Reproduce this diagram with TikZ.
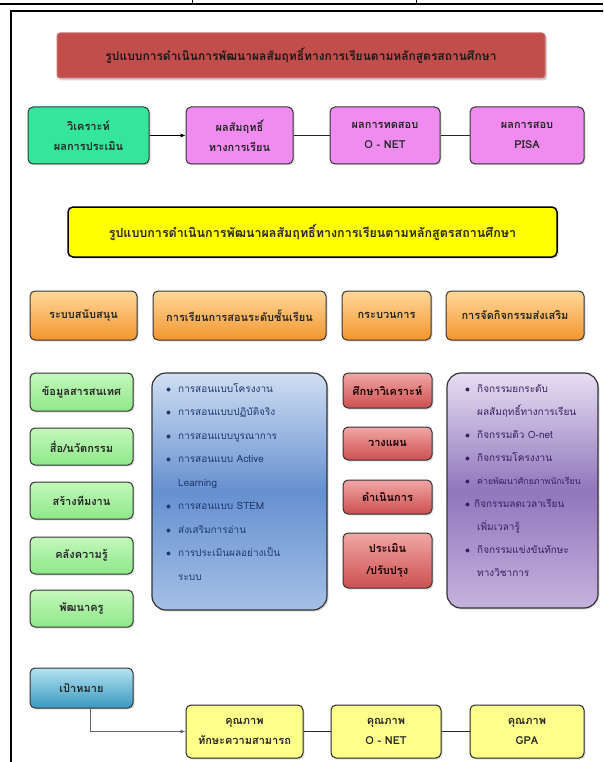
\documentclass[tikz,border=0pt]{standalone}
\usepackage{fontspec}
\newfontfamily\thai[Script=Thai]{Loma}
\usetikzlibrary{shadows,arrows.meta}
\pgfdeclarelayer{bg}
\pgfsetlayers{bg,main}
\definecolor{titlered}{HTML}{C24E4C}
\definecolor{mint}{HTML}{33E69C}
\definecolor{pinkbox}{HTML}{F08CF0}
\definecolor{yel}{HTML}{FFFF00}
\definecolor{lyel}{HTML}{FFFF8C}
\definecolor{orT}{HTML}{FFD89A}
\definecolor{orB}{HTML}{F3962E}
\definecolor{grT}{HTML}{C4F8BC}
\definecolor{grB}{HTML}{8EE888}
\definecolor{blT}{HTML}{D0DEF2}
\definecolor{blM}{HTML}{6690D0}
\definecolor{blB}{HTML}{A4C0E6}
\definecolor{rdT}{HTML}{F2A6A6}
\definecolor{rdB}{HTML}{CC5050}
\definecolor{puT}{HTML}{E6DEF2}
\definecolor{puM}{HTML}{9076BC}
\definecolor{puB}{HTML}{C6B2DE}
\definecolor{tlT}{HTML}{B4E2F2}
\definecolor{tlB}{HTML}{3A98C0}
\definecolor{bltext}{HTML}{1F3A70}
\definecolor{putext}{HTML}{3A1F60}
\begin{document}
\begin{tikzpicture}[x=1pt,y=-1pt,
  every node/.style={inner sep=0pt},
  lbl/.style={font=\thai\bfseries\fontsize{11}{20}\selectfont, text=black!85, align=center},
  bx/.style={rounded corners=5pt, draw=black!80, line width=1pt, lbl,
     drop shadow={shadow xshift=1.5pt, shadow yshift=-1.5pt, opacity=0.25}},
  conn/.style={draw=black!60, line width=0.8pt},
  link/.style={draw=black!85, line width=1.5pt},
  listtxt/.style={font=\thai\fontsize{10}{23.5}\selectfont, align=left, anchor=north west}]
\useasboundingbox (0,0) rectangle (603,762);
\clip (0,0) rectangle (603,762);
\fill[white] (0,0) rectangle (603,762);
% table fragment and frame
\draw[line width=1.5pt] (0,4) -- (603,4);
\draw[line width=1pt] (192,0) -- (192,4);
\draw[line width=1pt] (416,0) -- (416,4);
\draw[line width=2.5pt] (11,780) -- (11,11) -- (620,11);
% column guides
\coordinate (L1) at (90,0);
\coordinate (L2) at (243,0);
\coordinate (L3) at (385,0);
\coordinate (L4) at (521,0);
% title
\node[rounded corners=3pt, fill=titlered, draw=titlered!80!white, line width=1pt,
  minimum width=488pt, minimum height=45pt,
  drop shadow={shadow xshift=2pt, shadow yshift=-2.5pt, opacity=0.35},
  font=\thai\bfseries\fontsize{12}{14}\selectfont, text=black!90] (title) at (301,55.5)
  {รูปแบบการดำเนินการพัฒนาผลสัมฤทธิ์ทางการเรียนตามหลักสูตรสถานศึกษา};
% row 1
\node[bx, fill=mint, minimum width=121pt, minimum height=57pt] (g1) at (88.5,135.5) {วิเคราะห์\\ผลการประเมิน};
\node[bx, fill=pinkbox, minimum width=107pt, minimum height=57pt] (p1) at (239.5,135.5) {ผลสัมฤทธิ์\\ทางการเรียน};
\node[bx, fill=pinkbox, minimum width=110pt, minimum height=57pt] (p2) at (385,135.5) {ผลการทดสอบ\\O - NET};
\node[bx, fill=pinkbox, minimum width=114pt, minimum height=57pt] (p3) at (527,135.5) {ผลการสอบ\\PISA};
% yellow
\node[bx, fill=yel, draw=black, line width=1.5pt, minimum width=489pt, minimum height=50pt,
  font=\thai\bfseries\fontsize{12.5}{14}\selectfont] (Y) at (312.5,232)
  {รูปแบบการดำเนินการพัฒนาผลสัมฤทธิ์ทางการเรียนตามหลักสูตรสถานศึกษา};
% orange row
\tikzset{orb/.style={bx, top color=orT, bottom color=orB, minimum height=49pt}}
\node[orb, minimum width=107pt] (o1) at (83.5,315.5) {ระบบสนับสนุน};
\node[orb, minimum width=173pt] (o2) at (239.5,315.5) {การเรียนการสอนระดับชั้นเรียน};
\node[orb, minimum width=89pt] (o3) at (386.5,315.5) {กระบวนการ};
\node[orb, minimum width=138pt] (o4) at (515,315.5) {การจัดกิจกรรมส่งเสริม};
% green column
\tikzset{grb/.style={bx, top color=grT, bottom color=grB, minimum width=103pt, minimum height=37pt}}
\node[grb, minimum height=38pt] (s1) at (81.5,392) {ข้อมูลสารสนเทศ};
\node[grb] (s2) at (81.5,446.5) {สื่อ/นวัตกรรม};
\node[grb] (s3) at (81.5,500.5) {สร้างทีมงาน};
\node[grb] (s4) at (81.5,555.5) {คลังความรู้};
\node[grb] (s5) at (81.5,608.5) {พัฒนาครู};
\node[bx, top color=tlT, bottom color=tlB, minimum width=103pt, minimum height=40pt] (goal) at (81.5,688) {เป้าหมาย};
% blue box
\node[rounded corners=14pt, draw=black!80, line width=1.2pt, minimum width=175pt, minimum height=237pt,
  top color=blT, bottom color=blB, middle color=blM,
  drop shadow={shadow xshift=1.5pt, shadow yshift=-1.5pt, opacity=0.25}] (blue) at (239.5,491.5) {};
\node[listtxt, text=bltext] (bluelist) at (166,383) {%
\makebox[12pt][l]{$\bullet$}การสอนแบบโครงงาน\\
\makebox[12pt][l]{$\bullet$}การสอนแบบปฏิบัติจริง\\
\makebox[12pt][l]{$\bullet$}การสอนแบบบูรณาการ\\
\makebox[12pt][l]{$\bullet$}การสอนแบบ Active\\
\hspace*{12pt}Learning\\
\makebox[12pt][l]{$\bullet$}การสอนแบบ STEM\\
\makebox[12pt][l]{$\bullet$}ส่งเสริมการอ่าน\\
\makebox[12pt][l]{$\bullet$}การประเมินผลอย่างเป็น\\
\hspace*{12pt}ระบบ};
% red column
\tikzset{rdb/.style={bx, top color=rdT, bottom color=rdB, minimum width=89pt, text=black!90!red}}
\node[rdb, minimum height=35pt] (r1) at (387.5,390.5) {ศึกษาวิเคราะห์};
\node[rdb, minimum height=33pt] (r2) at (387.5,443.5) {วางแผน};
\node[rdb, minimum height=34pt] (r3) at (387.5,497) {ดำเนินการ};
\node[rdb, minimum height=55pt, font=\thai\bfseries\fontsize{11}{22}\selectfont] (r4) at (387.5,560.5) {ประเมิน\\/ปรับปรุง};
% purple box
\node[rounded corners=14pt, draw=black!80, line width=1.2pt, minimum width=151pt, minimum height=235pt,
  top color=puT, bottom color=puB, middle color=puM,
  drop shadow={shadow xshift=1.5pt, shadow yshift=-1.5pt, opacity=0.25}] (purple) at (522.5,490.5) {};
\node[listtxt, text=putext, font=\thai\fontsize{10}{23}\selectfont] (purplelist) at (465,384) {%
\makebox[12pt][l]{$\bullet$}กิจกรรมยกระดับ\\
\hspace*{12pt}ผลสัมฤทธิ์ทางการเรียน\\
\makebox[12pt][l]{$\bullet$}กิจกรรมติว O-net\\
\makebox[12pt][l]{$\bullet$}กิจกรรมโครงงาน\\
\makebox[12pt][l]{$\bullet$}{\fontsize{8.8}{23}\selectfont ค่ายพัฒนาศักยภาพนักเรียน}\\
\makebox[9pt][l]{$\bullet$}กิจกรรมลดเวลาเรียน\\
\hspace*{12pt}เพิ่มเวลารู้\\
\makebox[12pt][l]{$\bullet$}กิจกรรมแข่งขันทักษะ\\
\hspace*{12pt}ทางวิชาการ};
% bottom row
\tikzset{qb/.style={bx, fill=lyel, draw=black!85, minimum height=53pt}}
\node[qb, minimum width=117pt] (q1) at (244.5,731.5) {คุณภาพ\\ทักษะความสามารถ};
\node[qb, minimum width=110pt] (q2) at (386,731.5) {คุณภาพ\\O - NET};
\node[qb, minimum width=114pt] (q3) at (527,731.5) {คุณภาพ\\GPA};
% connectors
\begin{pgfonlayer}{bg}
\draw[conn] (g1.south -| L1) -- (o1.north -| L1);
\draw[conn] (p1.south -| L2) -- (o2.north -| L2);
\draw[conn] (p2.south -| L3) -- (o3.north -| L3);
\draw[conn] (p3.south -| L4) -- (o4.north -| L4);
\draw[conn] (o1.south -| L1) -- (s1.north -| L1);
\draw[conn] (s1.south -| L1) -- (s2.north -| L1);
\draw[conn] (s2.south -| L1) -- (s3.north -| L1);
\draw[conn] (s3.south -| L1) -- (s4.north -| L1);
\draw[conn] (s4.south -| L1) -- (s5.north -| L1);
\draw[conn] (s5.south -| L1) -- (goal.north -| L1);
\draw[conn] (o2.south -| L2) -- (blue.north -| L2);
\draw[conn] (o3.south -| L3) -- (r1.north -| L3);
\draw[conn] (r1.south -| L3) -- (r2.north -| L3);
\draw[conn] (r2.south -| L3) -- (r3.north -| L3);
\draw[conn] (r3.south -| L3) -- (r4.north -| L3);
\draw[conn] (o4.south -| L4) -- (purple.north -| L4);
\end{pgfonlayer}
\draw[conn, -{Latex[length=5pt,width=4pt]}] (goal.south -| L1) |- (q1.west);
\draw[black, line width=1.3pt, -{Latex[length=5pt,width=4.5pt]}] (g1.east) -- (p1.west);
\draw[link] (p1.east) -- (p2.west);
\draw[link] (p2.east) -- (p3.west);
\draw[link] (q1.east) -- (q2.west);
\draw[link] (q2.east) -- (q3.west);
\end{tikzpicture}
\end{document}
